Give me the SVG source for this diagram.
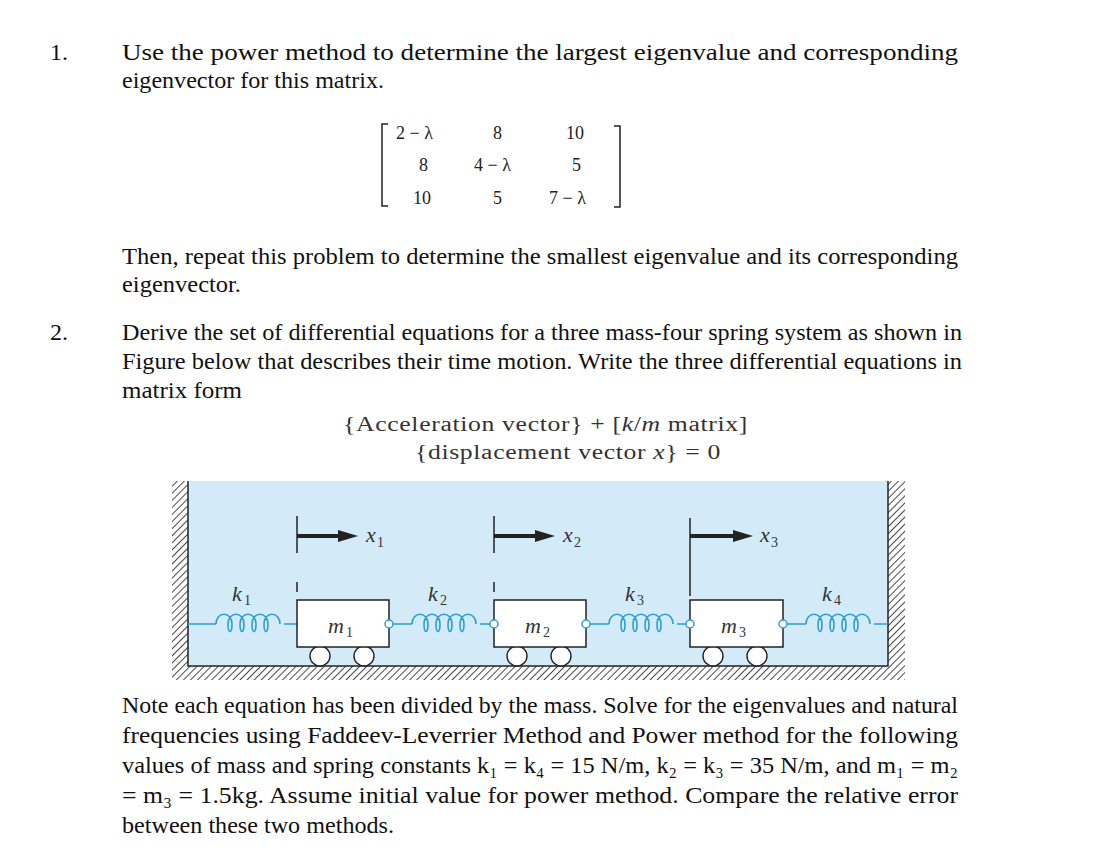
<svg xmlns="http://www.w3.org/2000/svg" width="1104" height="862" viewBox="0 0 1104 862">
<defs>
<style>
.t{font-family:"Liberation Serif",serif;font-size:24px;fill:#111}
.m{font-family:"Liberation Serif",serif;font-size:18px;fill:#222}
.e{font-family:"Liberation Serif",serif;font-size:20px;fill:#333;letter-spacing:0.5px}
.l{font-family:"Liberation Serif",serif;font-style:italic;font-size:22px;fill:#333}
.s{font-family:"Liberation Serif",serif;font-size:14px;fill:#333}
.sp{fill:none;stroke:#2a9fd0;stroke-width:1.6}
.box{fill:#fff;stroke:#222;stroke-width:1.5}
.wh{fill:#fff;stroke:#222;stroke-width:1.4}
.pin{fill:#fff;stroke:#2a9fd0;stroke-width:1.5}
</style>
<pattern id="h" width="5" height="5" patternUnits="userSpaceOnUse" patternTransform="rotate(45)">
<rect width="5" height="5" fill="#fff"/><line x1="0" y1="0" x2="0" y2="5" stroke="#333" stroke-width="1.8"/>
</pattern>
<path id="coil" class="sp" d="M0,0 c0,-13 16,-13 16,0 c0,10 -4,10 -4,0 c0,-13 16,-13 16,0 c0,10 -4,10 -4,0 c0,-13 16,-13 16,0 c0,10 -4,10 -4,0 c0,-13 16,-13 16,0 c0,10 -4,10 -4,0 c0,-13 16,-13 16,0"/>
</defs>
<rect width="1104" height="862" fill="#fff"/>
<text class="t" x="50" y="60">1.</text>
<text class="t" x="122" y="60" textLength="836" lengthAdjust="spacingAndGlyphs">Use the power method to determine the largest eigenvalue and corresponding</text>
<text class="t" x="122" y="88" textLength="262" lengthAdjust="spacingAndGlyphs">eigenvector for this matrix.</text>
<g id="matrix">
<path d="M388,124 h-6 v82 h6 M614,126 h6 v81 h-6" fill="none" stroke="#222" stroke-width="1.5"/>
<text class="m" x="396" y="139">2 − λ</text><text class="m" x="493" y="139">8</text><text class="m" x="566" y="139">10</text>
<text class="m" x="419" y="171">8</text><text class="m" x="474" y="171">4 − λ</text><text class="m" x="572" y="171">5</text>
<text class="m" x="413" y="204">10</text><text class="m" x="493" y="204">5</text><text class="m" x="549" y="204">7 − λ</text>
</g>
<text class="t" x="122" y="264" textLength="836" lengthAdjust="spacingAndGlyphs">Then, repeat this problem to determine the smallest eigenvalue and its corresponding</text>
<text class="t" x="122" y="292" textLength="119" lengthAdjust="spacingAndGlyphs">eigenvector.</text>
<text class="t" x="50" y="340">2.</text>
<text class="t" x="122" y="340" textLength="840" lengthAdjust="spacingAndGlyphs">Derive the set of differential equations for a three mass-four spring system as shown in</text>
<text class="t" x="122" y="369" textLength="840" lengthAdjust="spacingAndGlyphs">Figure below that describes their time motion. Write the three differential equations in</text>
<text class="t" x="122" y="398" textLength="120" lengthAdjust="spacingAndGlyphs">matrix form</text>
<text class="e" x="343" y="431" textLength="405" lengthAdjust="spacingAndGlyphs">{Acceleration vector} + [<tspan font-style="italic">k</tspan>/<tspan font-style="italic">m</tspan> matrix]</text>
<text class="e" x="415" y="459" textLength="306" lengthAdjust="spacingAndGlyphs">{displacement vector <tspan font-style="italic">x</tspan>} = 0</text>
<g id="figure">
<rect x="188" y="481" width="700" height="185" fill="#d3ebf8"/>
<rect x="172" y="481" width="16" height="199" fill="url(#h)"/>
<rect x="888" y="481" width="17" height="199" fill="url(#h)"/>
<rect x="172" y="666" width="733" height="14" fill="url(#h)"/>
<path d="M188,481 V666 H888 V481" fill="none" stroke="#222" stroke-width="1.5"/>
</g>
<g id="connectors">
<use href="#coil" x="216" y="624"/>
<use href="#coil" x="412" y="624"/>
<use href="#coil" x="609" y="624"/>
<use href="#coil" x="806" y="624"/>
<path class="sp" d="M188,624 h28 M284,624 h13 M393,624 h19 M480,624 h10 M590,624 h19 M677,624 h9 M787,624 h19 M874,624 h14"/>
</g>
<g id="k1"><text class="l" x="232" y="601">k</text><text class="s" x="244" y="605">1</text></g>
<g id="k2"><text class="l" x="428" y="601">k</text><text class="s" x="440" y="605">2</text></g>
<g id="k3"><text class="l" x="625" y="601">k</text><text class="s" x="637" y="605">3</text></g>
<g id="k4"><text class="l" x="822" y="601">k</text><text class="s" x="834" y="605">4</text></g>
<g id="m1">
<circle class="wh" cx="320" cy="656" r="10"/><circle class="wh" cx="364" cy="656" r="10"/>
<rect class="box" x="297" y="600" width="92" height="47"/>
<text class="l" x="328" y="633">m</text><text class="s" x="346" y="637">1</text>
<circle class="pin" cx="389" cy="624" r="4"/>
</g>
<g id="m2">
<circle class="wh" cx="517" cy="656" r="10"/><circle class="wh" cx="561" cy="656" r="10"/>
<rect class="box" x="494" y="600" width="92" height="47"/>
<text class="l" x="525" y="633">m</text><text class="s" x="543" y="637">2</text>
<circle class="pin" cx="494" cy="624" r="4"/><circle class="pin" cx="586" cy="624" r="4"/>
</g>
<g id="m3">
<circle class="wh" cx="713" cy="656" r="10"/><circle class="wh" cx="757" cy="656" r="10"/>
<rect class="box" x="690" y="600" width="93" height="47"/>
<text class="l" x="721" y="633">m</text><text class="s" x="739" y="637">3</text>
<circle class="pin" cx="690" cy="624" r="4"/><circle class="pin" cx="783" cy="624" r="4"/>
</g>
<g id="arrows" stroke="#222">
<line x1="297" y1="516" x2="297" y2="553" stroke-width="1.5"/><line x1="297" y1="582" x2="297" y2="592" stroke-width="1.5"/>
<line x1="297" y1="536" x2="340" y2="536" stroke-width="4"/><path d="M338,530 L358,536 L338,542Z" fill="#222" stroke="none"/>
<line x1="494" y1="516" x2="494" y2="553" stroke-width="1.5"/><line x1="494" y1="582" x2="494" y2="592" stroke-width="1.5"/>
<line x1="494" y1="536" x2="537" y2="536" stroke-width="4"/><path d="M535,530 L555,536 L535,542Z" fill="#222" stroke="none"/>
<line x1="690" y1="518" x2="690" y2="596" stroke-width="1.5"/>
<line x1="690" y1="536" x2="735" y2="536" stroke-width="4"/><path d="M733,530 L753,536 L733,542Z" fill="#222" stroke="none"/>
</g>
<text class="l" x="366" y="542">x</text><text class="s" x="377" y="547">1</text>
<text class="l" x="563" y="542">x</text><text class="s" x="574" y="547">2</text>
<text class="l" x="760" y="542">x</text><text class="s" x="771" y="547">3</text>
<text class="t" x="122" y="713" textLength="836" lengthAdjust="spacingAndGlyphs">Note each equation has been divided by the mass. Solve for the eigenvalues and natural</text>
<text class="t" x="122" y="743" textLength="836" lengthAdjust="spacingAndGlyphs">frequencies using Faddeev-Leverrier Method and Power method for the following</text>
<text class="t" x="122" y="773" textLength="836" lengthAdjust="spacingAndGlyphs">values of mass and spring constants k₁ = k₄ = 15 N/m, k₂ = k₃ = 35 N/m, and m₁ = m₂</text>
<text class="t" x="122" y="803" textLength="836" lengthAdjust="spacingAndGlyphs">= m₃ = 1.5kg. Assume initial value for power method. Compare the relative error</text>
<text class="t" x="122" y="833" textLength="272" lengthAdjust="spacingAndGlyphs">between these two methods.</text>
</svg>
